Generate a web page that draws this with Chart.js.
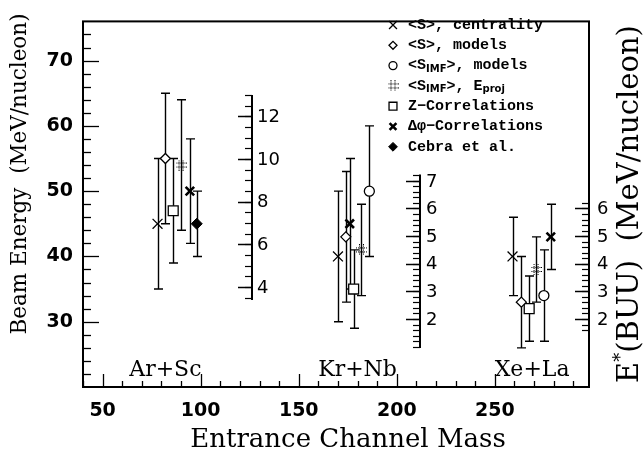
<!DOCTYPE html>
<html>
<head>
<meta charset="utf-8">
<script src="https://cdn.jsdelivr.net/npm/chart.js"></script>
<style>
  html, body { margin: 0; padding: 0; background: #fff; }
</style>
</head>
<body>
<canvas id="chart" width="644" height="454"></canvas>
<script>
// each point: [entrance channel mass, beam energy, error]
const sCentrality = [[78, 45, 10], [170, 40, 10], [259, 40, 6]];
const sModels = [[82, 55, 10], [174, 43, 10], [263.5, 33, 7]];
const simfModels = [[186, 50, 10], [275, 34, 7]];
const simfEproj = [[90, 54, 10], [182, 41, 7], [271, 38, 5]];
const zCorrelations = [[86, 47, 8], [178, 35, 6], [267.5, 32, 5]];
const dphiCorrelations = [[94.5, 50, 8], [176, 45, 10], [278.5, 43, 5]];
const cebra = [[98, 45, 5]];

const systems = ['Ar+Sc', 'Kr+Nb', 'Xe+La'];
const systemLabelMass = [82, 180, 269];

const massTicks = [50, 100, 150, 200, 250];
const energyTicks = [30, 40, 50, 60, 70];

// E*(BUU) scales drawn inside the plot
const eStarTicksAr = [4, 6, 8, 10, 12];
const eStarTicksKr = [2, 3, 4, 5, 6, 7];
const eStarTicksXe = [2, 3, 4, 5, 6];

const legendLabels = [
  [['<S>, centrality']],
  [['<S>, models']],
  [['<S'], ['IMF', 'sub'], ['>, models']],
  [['<S'], ['IMF', 'sub'], ['>, E'], ['proj', 'sub']],
  [['Z\u2212Correlations']],
  [['\u0394\u03c6\u2212Correlations']],
  [['Cebra et al.']]
];

// dotted hash marker
function hashMarker(size) {
  const c = document.createElement('canvas');
  c.width = size; c.height = size;
  const g = c.getContext('2d');
  g.fillStyle = '#000';
  const a = Math.round(size * 0.28), b = size - 1 - a;
  for (let i = 0; i < size; i += 2) {
    g.fillRect(a, i, 1, 1); g.fillRect(b, i, 1, 1);
    g.fillRect(i, a, 1, 1); g.fillRect(i, b, 1, 1);
  }
  return c;
}

const toPoints = arr => arr.map(([m, e, err]) => ({ x: m, y: e, err }));
const mk = (label, pts, style, radius, width, fill) => ({
  label, data: toPoints(pts), pointStyle: style, pointRadius: radius,
  pointHoverRadius: radius, pointBorderWidth: width, pointBorderColor: '#000',
  pointBackgroundColor: fill, showLine: false
});

const datasets = [
  mk('centrality', sCentrality, 'crossRot', 7, 1.3, '#fff'),
  mk('models', sModels, 'rectRot', 5, 1.3, '#fff'),
  mk('simf models', simfModels, 'circle', 5, 1.3, '#fff'),
  mk('simf eproj', simfEproj, hashMarker(11), 5, 1, '#fff'),
  mk('z corr', zCorrelations, 'rect', 7, 1.3, '#fff'),
  mk('dphi corr', dphiCorrelations, 'crossRot', 6, 2.6, '#fff'),
  mk('cebra', cebra, 'rectRot', 5.5, 1, '#000')
];

function hTicks(ctx, scale, x, from, to, step, len) {
  for (let v = from; v <= to + 1e-9; v += step) {
    const y = Math.round(scale.getPixelForValue(v)) + 0.5;
    ctx.beginPath(); ctx.moveTo(x, y); ctx.lineTo(x + len, y); ctx.stroke();
  }
}

function eStarAxis(ctx, scale, x, lo, hi, majors, minorStep, labelDx) {
  ctx.lineWidth = 2;
  ctx.beginPath();
  ctx.moveTo(x, scale.getPixelForValue(lo));
  ctx.lineTo(x, scale.getPixelForValue(hi));
  ctx.stroke();
  ctx.lineWidth = 1.2;
  const first = Math.ceil(lo / minorStep - 1e-9) * minorStep;
  hTicks(ctx, scale, x, first, hi, minorStep, -7);
  ctx.lineWidth = 1.5;
  majors.forEach(v => hTicks(ctx, scale, x, v, v, 1, -14));
  ctx.font = '18px "DejaVu Sans"';
  ctx.textAlign = 'left';
  ctx.textBaseline = 'middle';
  majors.forEach(v => ctx.fillText(String(v), x + labelDx, scale.getPixelForValue(v) + 1));
}

const decor = {
  id: 'decor',
  beforeDatasetsDraw(chart) {
    const ctx = chart.ctx, xs = chart.scales.x, ys = chart.scales.y;
    ctx.save();
    ctx.strokeStyle = '#000';
    ctx.lineWidth = 1.4;
    chart.data.datasets.forEach(ds => {
      ds.data.forEach(p => {
        const x = Math.round(xs.getPixelForValue(p.x)) + 0.5;
        const yt = ys.getPixelForValue(p.y + p.err);
        const yb = ys.getPixelForValue(p.y - p.err);
        ctx.beginPath();
        ctx.moveTo(x, yt); ctx.lineTo(x, yb);
        ctx.moveTo(x - 4.5, yt); ctx.lineTo(x + 4.5, yt);
        ctx.moveTo(x - 4.5, yb); ctx.lineTo(x + 4.5, yb);
        ctx.stroke();
      });
    });
    ctx.restore();
  },
  afterDraw(chart) {
    const ctx = chart.ctx, a = chart.chartArea;
    const xs = chart.scales.x, ys = chart.scales.y;
    const eAr = chart.scales.eAr, eKr = chart.scales.eKr;
    ctx.save();
    ctx.strokeStyle = '#000';
    ctx.fillStyle = '#000';

    // frame
    ctx.lineWidth = 2;
    ctx.strokeRect(a.left, a.top, a.right - a.left, a.bottom - a.top);

    // inward ticks on the main axes
    ctx.lineWidth = 1.3;
    for (let v = 22; v <= 74; v += 2) {
      const y = Math.round(ys.getPixelForValue(v)) + 0.5;
      const len = energyTicks.includes(v) ? 16 : 8;
      ctx.beginPath(); ctx.moveTo(a.left, y); ctx.lineTo(a.left + len, y); ctx.stroke();
    }
    for (let v = 40; v <= 290; v += 10) {
      const x = Math.round(xs.getPixelForValue(v)) + 0.5;
      const len = massTicks.includes(v) ? 13 : 6;
      ctx.beginPath(); ctx.moveTo(x, a.bottom); ctx.lineTo(x, a.bottom - len); ctx.stroke();
    }

    // E*(BUU) axes
    eStarAxis(ctx, eAr, Math.round(xs.getPixelForValue(126)), 3.4, 13.0, eStarTicksAr, 0.5, 5);
    eStarAxis(ctx, eKr, Math.round(xs.getPixelForValue(212)), 0.95, 7.23, eStarTicksKr, 0.2, 6);
    eStarAxis(ctx, eKr, a.right, 1.55, 6.2, eStarTicksXe, 0.2, 8);

    // system labels
    ctx.font = '22px "DejaVu Serif"';
    ctx.textAlign = 'center';
    ctx.textBaseline = 'middle';
    systems.forEach((s, i) => ctx.fillText(s, xs.getPixelForValue(systemLabelMass[i]), ys.getPixelForValue(22.5)));

    // axis titles
    ctx.font = '26px "DejaVu Serif"';
    ctx.fillText('Entrance Channel Mass', 348, 440);

    ctx.save();
    ctx.translate(20, 174);
    ctx.rotate(-Math.PI / 2);
    ctx.font = '21.5px "DejaVu Serif"';
    ctx.fillText('Beam Energy  (MeV/nucleon)', 0, 0);
    ctx.restore();

    ctx.save();
    ctx.translate(630, 204);
    ctx.rotate(-Math.PI / 2);
    ctx.textAlign = 'left';
    const big = '29px "DejaVu Serif"', small = '18px "DejaVu Serif"';
    ctx.font = big; const wE = ctx.measureText('E').width;
    ctx.font = small; const wS = ctx.measureText('*').width;
    ctx.font = big; const wR = ctx.measureText('(BUU)  (MeV/nucleon)').width;
    let x0 = -(wE + wS + wR) / 2;
    ctx.fillText('E', x0, 0);
    ctx.font = small; ctx.fillText('*', x0 + wE, -9);
    ctx.font = big; ctx.fillText('(BUU)  (MeV/nucleon)', x0 + wE + wS, 0);
    ctx.restore();

    // legend
    const main = 'bold 15px "Liberation Mono"', sub = 'bold 10px "DejaVu Sans"';
    legendLabels.forEach((parts, i) => {
      const y = 25 + i * 20.3;
      const ds = chart.data.datasets[i];
      ctx.save();
      ctx.lineWidth = ds.pointBorderWidth;
      ctx.fillStyle = ds.pointBackgroundColor;
      ctx.strokeStyle = '#000';
      Chart.helpers.drawPoint(ctx, {
        pointStyle: ds.pointStyle, radius: ds.pointRadius * 0.8,
        rotation: 0, borderWidth: ds.pointBorderWidth
      }, 393, y);
      ctx.restore();
      let x = 408;
      ctx.textAlign = 'left';
      ctx.textBaseline = 'middle';
      parts.forEach(([t, kind]) => {
        ctx.font = kind === 'sub' ? sub : main;
        ctx.fillText(t, x, kind === 'sub' ? y + 4 : y);
        x += ctx.measureText(t).width;
      });
    });
    ctx.restore();
  }
};

new Chart(document.getElementById('chart'), {
  type: 'scatter',
  data: { datasets },
  options: {
    responsive: false,
    animation: false,
    layout: { padding: { top: 10, right: 55, left: 0, bottom: 0 } },
    plugins: { legend: { display: false }, tooltip: { enabled: false } },
    scales: {
      x: {
        type: 'linear', min: 40, max: 298,
        afterBuildTicks: s => { s.ticks = massTicks.map(v => ({ value: v })); },
        afterFit: s => { s.height = 67; },
        grid: { display: false, drawTicks: false },
        border: { display: false },
        ticks: { color: '#000', padding: 13, maxRotation: 0, autoSkip: false,
                 font: { family: 'DejaVu Sans', weight: 'bold', size: 19 } }
      },
      y: {
        type: 'linear', min: 20, max: 76,
        afterBuildTicks: s => { s.ticks = energyTicks.map(v => ({ value: v })); },
        afterFit: s => { s.width = 83; },
        grid: { display: false, drawTicks: false },
        border: { display: false },
        ticks: { color: '#000', padding: 10,
                 font: { family: 'DejaVu Sans', weight: 'bold', size: 19 } }
      },
      eAr: { type: 'linear', axis: 'y', position: 'right', display: false, min: -0.68, max: 16.45 },
      eKr: { type: 'linear', axis: 'y', position: 'right', display: false, min: -0.46, max: 12.77 }
    }
  },
  plugins: [decor]
});
</script>
</body>
</html>
